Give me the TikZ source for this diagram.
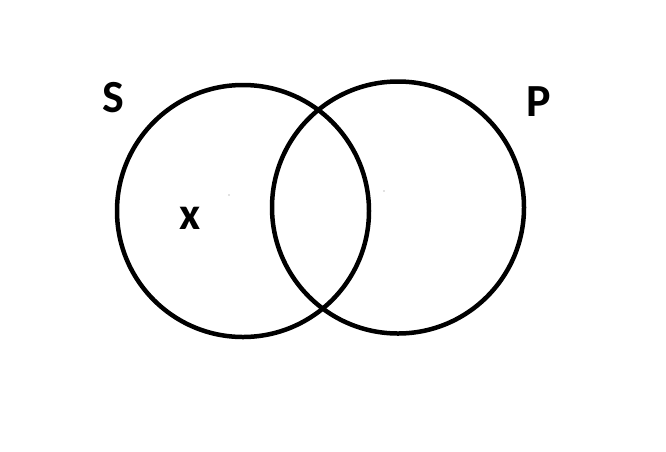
\documentclass[tikz,border=0pt]{standalone}
\usepackage{fontspec}
\setmainfont{Carlito}

\begin{document}
\begin{tikzpicture}[x=1pt, y=-1pt, font=\bfseries\fontsize{46}{50}\selectfont,
    setring/.style={draw=black, line width=4.5pt, circle, minimum size=252pt, inner sep=0pt},
    setname/.style={anchor=base, inner sep=0pt}]
      %% frame
      \useasboundingbox (0,0) rectangle (666,451);

      \node[setring] (Sset) at (243,211) {};
      \node[setring] (Pset) at (398,207.5) {};
      \fill[gray] (229,195) circle (0.6pt) (384,191) circle (0.6pt);

      \node[setname] (Sname) at (113,112) {S};
      \node[setname] (Pname) at (539,116) {P};
      \node[setname] (xmark) at (190,229) {x};

    \end{tikzpicture}
\end{document}
